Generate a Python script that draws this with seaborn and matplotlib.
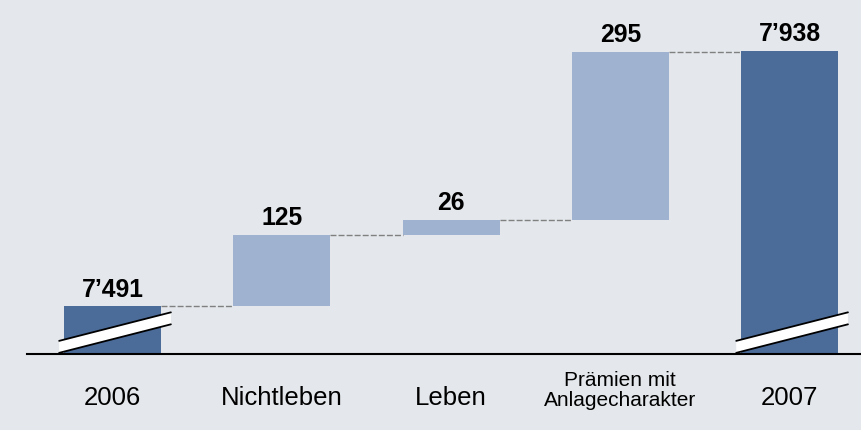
import matplotlib
matplotlib.use("Agg")
import matplotlib.pyplot as plt
import seaborn as sns
import pandas as pd

# data
categories = ["2006", "Nichtleben", "Leben", "Prämien mit\nAnlagecharakter", "2007"]
start_total = 7491
changes = [125, 26, 295]
end_total = 7938
value_labels = ["7’491", "125", "26", "295", "7’938"]

BG = "#e4e8ec"
DARK = "#4b6b99"
LIGHT = "#9fb3d1"
BASE = 7407  # value at the broken axis line

sns.set_theme(style="white")
plt.rcParams["font.family"] = ["Liberation Sans", "DejaVu Sans"]
plt.rcParams["text.color"] = "black"

fig = plt.figure(figsize=(8.62, 4.31), dpi=100, facecolor=BG)
ax = fig.add_axes([27 / 862, 76 / 431, 835 / 862, 355 / 431])
ax.set_facecolor(BG)

# cumulative levels for the floating bars
levels = [start_total]
for c in changes:
    levels.append(levels[-1] + c)
bottoms = levels[:-1]

totals_df = pd.DataFrame({"cat": [categories[0], categories[-1]],
                          "val": [start_total - BASE, end_total - BASE]})
float_df = pd.DataFrame({"cat": categories[1:4], "val": changes})

sns.barplot(data=totals_df, x="cat", y="val", order=categories, color=DARK,
            saturation=1, width=0.573, errorbar=None, bottom=BASE,
            edgecolor="none", linewidth=0, ax=ax)
sns.barplot(data=float_df, x="cat", y="val", order=categories, color=LIGHT,
            saturation=1, width=0.573, errorbar=None, bottom=bottoms,
            edgecolor="none", linewidth=0, ax=ax)

tops = [start_total] + levels[1:] + [end_total]
half = 0.573 / 2

# dashed connectors
for i in range(4):
    ax.plot([i + half, i + 1 - half], [tops[i], tops[i]], color="#808080",
            lw=1.0, ls=(0, (4.3, 1.5)), zorder=1)

# value labels
for i, (t, lab) in enumerate(zip(tops, value_labels)):
    ax.annotate(lab, (i, t), xytext=(0, 4), textcoords="offset points",
                ha="center", va="bottom", fontsize=17.8, fontweight="bold",
                color="black")

# axis break marks on the total bars
for i in (0, 4):
    xl, xr = i - 0.315, i + 0.345
    top_l, top_r = BASE + 23, BASE + 73
    bot_l, bot_r = BASE + 2, BASE + 52
    ax.fill([xl, xr, xr, xl], [top_l, top_r, bot_r, bot_l], color="white",
            zorder=3, clip_on=False, lw=0)
    ax.plot([xl, xr], [top_l, top_r], color="black", lw=1.3, zorder=4,
            clip_on=False)
    ax.plot([xl, xr], [bot_l, bot_r], color="black", lw=1.3, zorder=4,
            clip_on=False)

ax.set_xlim(-0.505, 4.428)
ax.set_ylim(BASE, 8029)

# category labels
ax.set_xticks([])
ax.set_yticks([])
ax.set_xlabel("")
ax.set_ylabel("")
for i, cat in enumerate(categories):
    if "\n" in cat:
        ax.text(i, -0.1, cat, transform=ax.get_xaxis_transform(),
                ha="center", va="center", fontsize=15, linespacing=1.1,
                color="black")
    else:
        ax.text(i, -0.12, cat, transform=ax.get_xaxis_transform(),
                ha="center", va="center", fontsize=18.5, color="black")

for s in ["top", "right", "left"]:
    ax.spines[s].set_visible(False)
ax.spines["bottom"].set_color("black")
ax.spines["bottom"].set_linewidth(1.5)

fig.savefig("out.png", dpi=100, facecolor=BG)
